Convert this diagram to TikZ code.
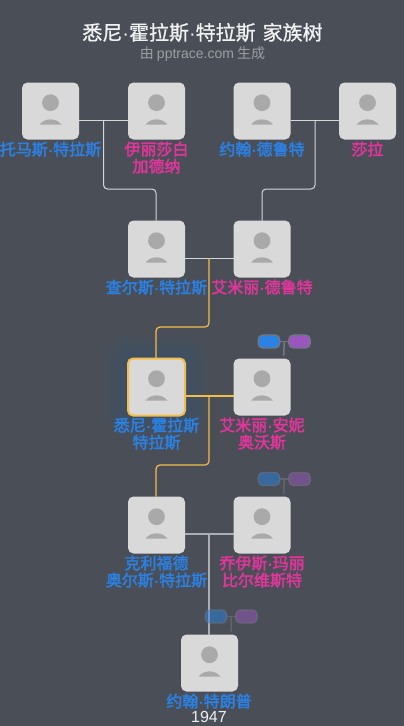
\documentclass[tikz,border=0pt]{standalone}
\usepackage{fontspec}
\setmainfont{Noto Sans CJK SC}
\newfontfamily\latfont{Liberation Sans}
\newfontfamily\titlefont{Noto Sans CJK SC}[FakeBold=1]
\newfontfamily\namefont{Noto Sans CJK SC}[FakeBold=2.5]
\newfontfamily\namedotfont{Liberation Sans}[FakeBold=2.5]
\usetikzlibrary{calc}
\definecolor{bgc}{HTML}{4A4F57}
\definecolor{boxc}{HTML}{D9D9D9}
\definecolor{sil}{HTML}{A9A9A9}
\definecolor{malec}{HTML}{2B80E2}
\definecolor{femc}{HTML}{E0359B}
\definecolor{goldc}{HTML}{F2BE4A}
\definecolor{linec}{HTML}{D5D7DA}
\definecolor{pillb}{HTML}{2A82E4}
\definecolor{pillp}{HTML}{9A55BE}
\definecolor{pilled}{HTML}{727885}
\newcommand{\dotc}{{\namedotfont ·}}
\tikzset{
  x=1pt,y=-1pt,
  personbox/.style={fill=boxc,rounded corners=5.5pt,minimum width=57pt,minimum height=57pt,inner sep=0pt,outer sep=0pt},
  selbox/.style={draw=goldc,line width=2pt,fill=boxc,rounded corners=5pt,minimum width=57pt,minimum height=57pt,inner sep=0pt,outer sep=0pt},
  namem/.style={text=malec,font=\fontsize{16}{17}\selectfont\namefont,align=center,inner sep=0pt,anchor=north},
  namef/.style={text=femc,font=\fontsize{16}{17}\selectfont\namefont,align=center,inner sep=0pt,anchor=north},
  conn/.style={draw=linec,line width=1pt,rounded corners=4pt},
  connsel/.style={draw=goldc,line width=1.2pt,rounded corners=4pt},
  connlow/.style={draw=linec!70!bgc,line width=1.4pt},
  pill/.style={draw=pilled,line width=1.2pt,rounded corners=4.5pt,minimum width=21.5pt,minimum height=13pt,inner sep=0pt,outer sep=0pt},
  stem/.style={draw=pilled,line width=1.5pt},
}
\newcommand{\silh}[2]{%
  \fill[sil] (#1,#2-8.3) circle (8.4pt);
  \fill[sil] (#1-11,#2+13.7) .. controls (#1-6,#2+6.6) and (#1+6,#2+6.6) .. (#1+11,#2+13.7) -- cycle;
}
\begin{document}
\begin{tikzpicture}
\useasboundingbox (0,0) rectangle (404,726);
\fill[bgc] (0,0) rectangle (404,726);
% glow of the chosen person
\foreach \g/\r in {24/26,20/22,16/18,12/14,8/10,4/7}
  \fill[blue!60!cyan,opacity=.014,rounded corners=\r pt] (156-28.5-\g,387-28.5-\g) rectangle (156+28.5+\g,387+28.5+\g);
% title
\node[text=white!92!bgc,font=\fontsize{20}{22}\selectfont\titlefont,inner sep=0pt] (title) at (202.5,32.5) {悉尼{\latfont ·}霍拉斯{\latfont ·}特拉斯\hspace{2.5pt} 家族树};
\node[text=white!45!bgc,font=\fontsize{14}{16}\selectfont,inner sep=0pt] (sub) at (202.5,54) {由 {\latfont pptrace.com} 生成};
% boxes
\node[personbox] (a) at (50.5,111) {};
\node[personbox] (b) at (156.5,111) {};
\node[personbox] (c) at (262,111) {};
\node[personbox] (d) at (367.5,111) {};
\node[personbox] (e) at (156.5,249) {};
\node[personbox] (f) at (262,249) {};
\node[selbox] (g) at (156.5,387) {};
\node[personbox] (h) at (262,387) {};
\node[personbox] (i) at (156.5,525) {};
\node[personbox] (j) at (262,525) {};
\node[personbox] (k) at (209.5,663) {};
\foreach \px/\py in {50.5/111,156.5/111,262/111,367.5/111,156.5/249,262/249,156.5/387,262/387,156.5/525,262/525,209.5/663}{\silh{\px}{\py}}
% names
\node[namem] (na) at (50.5,141.5) {托马斯\dotc 特拉斯};
\node[namef] (nb) at (156.5,141.5) {伊丽莎白\\加德纳};
\node[namem] (nc) at (262,141.5) {约翰\dotc 德鲁特};
\node[namef] (nd) at (367.5,141.5) {莎拉};
\node[namem] (ne) at (156.5,279.5) {查尔斯\dotc 特拉斯};
\node[namef] (nf) at (262,279.5) {艾米丽\dotc 德鲁特};
\node[namem] (ng) at (156.5,417.5) {悉尼\dotc 霍拉斯\\特拉斯};
\node[namef] (nh) at (262,417.5) {艾米丽\dotc 安妮\\奥沃斯};
\node[namem] (ni) at (156.5,555.5) {克利福德\\奥尔斯\dotc 特拉斯};
\node[namef] (nj) at (262,555.5) {乔伊斯\dotc 玛丽\\比尔维斯特};
\node[namem] (nk) at (209,693.5) {约翰\dotc 特朗普};
\node[text=white!90!bgc,font=\fontsize{16}{17}\selectfont\latfont,inner sep=0pt] (yr) at (209,717) {1947};
% junctions
\coordinate (u1) at (103.5,120.5);
\coordinate (u2) at (315,120.5);
\coordinate (u3) at (209,258);
\coordinate (u4) at (209,396);
\coordinate (u5) at (209,534);
% couple lines
\draw[conn] (a.east |- u1) -- (b.west |- u1);
\draw[conn] (c.east |- u2) -- (d.west |- u2);
\draw[conn] (e.east |- u3) -- (f.west |- u3);
\draw[connsel] (g.east |- u4) -- (h.west |- u4);
\draw[connlow] (i.east |- u5) -- (j.west |- u5);
% descents
\draw[conn] (u1) -- (103.5,189) -- (156,189) -- (e.north -| 156,0);
\draw[conn] (u2) -- (315,189) -- (262,189) -- (f.north);
\draw[connsel] (u3) -- (209,327) -- (156,327) -- (g.north -| 156,0);
\draw[connsel] (u4) -- (209,465) -- (156,465) -- (i.north -| 156,0);
\draw[connlow] (u5) -- (k.north -| u5);
% small pills
\begin{scope}
\node[pill,fill=pillb] (p1) at (269,341.5) {};
\node[pill,fill=pillp] (q1) at (299.5,341.5) {};
\draw[stem] (p1) -- (q1);
\draw[stem] ($(p1.east)!.5!(q1.west)$) -- (283.7,356);
\end{scope}
\begin{scope}[opacity=.5]
\node[pill,fill=pillb] (p2) at (269,479) {};
\node[pill,fill=pillp] (q2) at (299.5,479) {};
\draw[stem] (p2) -- (q2);
\draw[stem] ($(p2.east)!.5!(q2.west)$) -- (283.7,494);
\node[pill,fill=pillb] (p3) at (216,616.5) {};
\node[pill,fill=pillp] (q3) at (246.5,616.5) {};
\draw[stem] (p3) -- (q3);
\draw[stem] ($(p3.east)!.5!(q3.west)$) -- (231,631.5);
\end{scope}
\end{tikzpicture}
\end{document}
